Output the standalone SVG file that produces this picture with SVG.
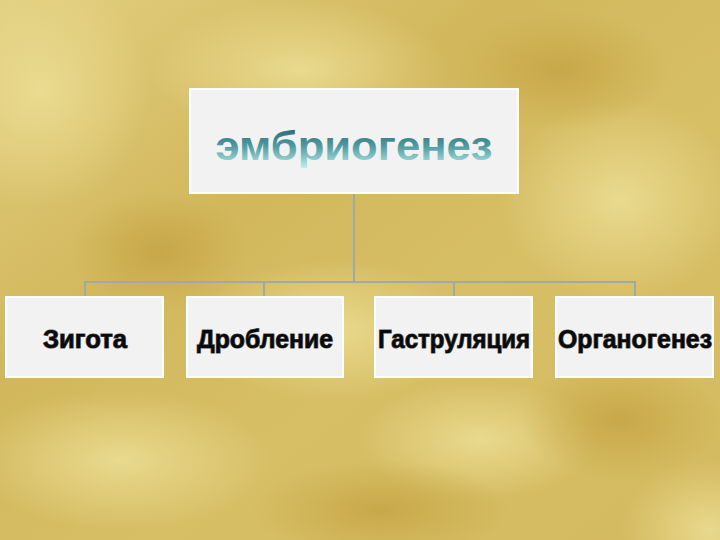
<svg xmlns="http://www.w3.org/2000/svg" width="720" height="540" viewBox="0 0 720 540">
<style>
.box{fill:#f2f2f2;stroke:#ffffff;stroke-width:2}
.conn{stroke:#9aabaa;stroke-width:2;fill:none}
.lbl{font-family:"Liberation Sans",Arial,sans-serif;font-weight:bold;font-size:26px;fill:#0a0a0a;stroke:#555;stroke-width:1.2;paint-order:stroke;text-anchor:middle}
.title{font-family:"Liberation Sans",Arial,sans-serif;font-weight:bold;font-size:41px;fill:url(#tg);text-anchor:middle}
</style>
<defs>
<linearGradient id="bg" x1="0" y1="0" x2="1" y2="1">
<stop offset="0" stop-color="#e2cf80"/>
<stop offset="0.35" stop-color="#d2b75c"/>
<stop offset="0.6" stop-color="#d7bf66"/>
<stop offset="1" stop-color="#d4b95f"/>
</linearGradient>
<radialGradient id="lp"><stop offset="0" stop-color="#ebdd93" stop-opacity="0.9"/><stop offset="1" stop-color="#ebdd93" stop-opacity="0"/></radialGradient>
<radialGradient id="dp"><stop offset="0" stop-color="#c5a443" stop-opacity="0.8"/><stop offset="1" stop-color="#c5a443" stop-opacity="0"/></radialGradient>
<linearGradient id="tg" x1="0" y1="0" x2="0" y2="1">
<stop offset="0" stop-color="#245c66"/>
<stop offset="0.5" stop-color="#4f9aa0"/>
<stop offset="1" stop-color="#c0f4f0"/>
</linearGradient>
</defs>
<rect width="720" height="540" fill="url(#bg)"/>
<ellipse cx="40" cy="90" rx="110" ry="120" fill="url(#lp)"/>
<ellipse cx="300" cy="70" rx="150" ry="70" fill="url(#lp)"/>
<ellipse cx="620" cy="200" rx="120" ry="100" fill="url(#lp)"/>
<ellipse cx="330" cy="330" rx="140" ry="70" fill="url(#lp)"/>
<ellipse cx="120" cy="460" rx="150" ry="70" fill="url(#lp)"/>
<ellipse cx="710" cy="530" rx="90" ry="70" fill="url(#lp)"/>
<ellipse cx="480" cy="440" rx="120" ry="60" fill="url(#lp)"/>
<ellipse cx="160" cy="250" rx="90" ry="60" fill="url(#dp)"/>
<ellipse cx="560" cy="70" rx="110" ry="60" fill="url(#dp)"/>
<ellipse cx="380" cy="510" rx="130" ry="50" fill="url(#dp)"/>
<ellipse cx="620" cy="420" rx="100" ry="60" fill="url(#dp)"/>
<g id="connectors">
<path class="conn" d="M354 193 V282 M85 297 V282 H635 V297 M264 282 V297 M454 282 V297"/>
</g>
<g id="node-root">
<rect class="box" x="190" y="89" width="328" height="104"/>
<text class="title" x="354" y="160" textLength="277" lengthAdjust="spacingAndGlyphs">эмбриогенез</text>
</g>
<g id="node-zygota">
<rect class="box" x="6" y="297" width="157" height="80"/>
<text class="lbl" x="85" y="348" textLength="84" lengthAdjust="spacingAndGlyphs">Зигота</text>
</g>
<g id="node-droblenie">
<rect class="box" x="187" y="297" width="156" height="80"/>
<text class="lbl" x="265" y="348" textLength="136" lengthAdjust="spacingAndGlyphs">Дробление</text>
</g>
<g id="node-gastrulyatsiya">
<rect class="box" x="375" y="297" width="157" height="80"/>
<text class="lbl" x="454" y="348" textLength="152" lengthAdjust="spacingAndGlyphs">Гаструляция</text>
</g>
<g id="node-organogenez">
<rect class="box" x="556" y="297" width="157" height="80"/>
<text class="lbl" x="635" y="348" textLength="154" lengthAdjust="spacingAndGlyphs">Органогенез</text>
</g>
</svg>
